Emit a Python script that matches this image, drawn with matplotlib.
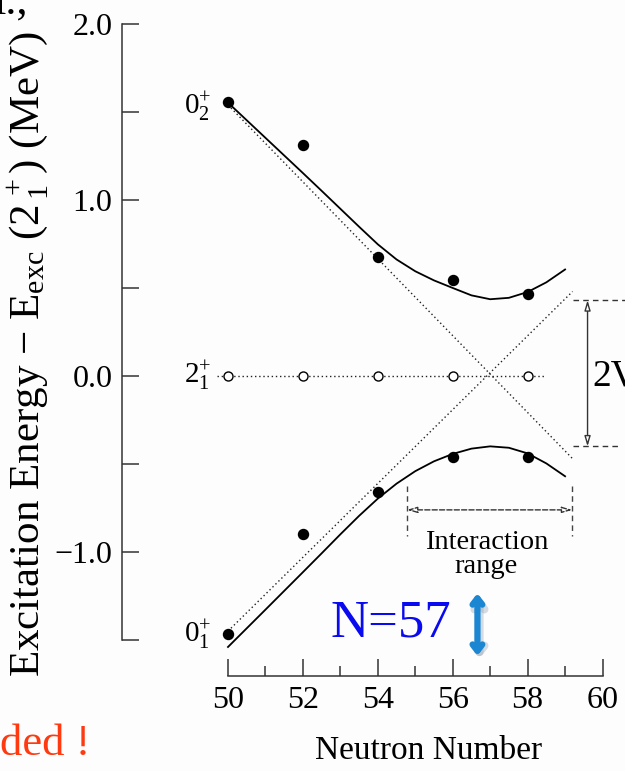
import numpy as np
import matplotlib
matplotlib.use('Agg')
import matplotlib.pyplot as plt
import matplotlib.transforms as mtransforms

####################################################################################################

plt.rcParams['font.family'] = ['Liberation Serif', 'DejaVu Serif']
plt.rcParams['mathtext.fontset'] = 'custom'
plt.rcParams['mathtext.rm'] = 'Liberation Serif'
plt.rcParams['mathtext.it'] = 'Liberation Serif:italic'
plt.rcParams['mathtext.bf'] = 'Liberation Serif:bold'

####################################################################################################

# measured levels (relative to the 2+1 state)
neutron = [50, 52, 54, 56, 58]
e_0plus_2 = [1.557, 1.31, 0.676, 0.545, 0.466]
e_0plus_1 = [-1.468, -0.898, -0.657, -0.46, -0.462]
e_2plus_1 = [0.0, 0.0, 0.0, 0.0, 0.0]

# two-level mixing curves
curve_n = [50, 51, 52, 52.5, 53, 53.5, 54, 54.5, 55, 55.5, 56, 56.5, 57, 57.5, 58, 58.5, 59]
curve_upper = [1.553, 1.353, 1.153, 1.052, 0.95, 0.848, 0.748, 0.662, 0.595, 0.543, 0.50,
               0.458, 0.436, 0.444, 0.477, 0.532, 0.605]
curve_lower = [-1.54, -1.328, -1.115, -1.008, -0.90, -0.795, -0.697, -0.612, -0.541, -0.485,
               -0.443, -0.413, -0.400, -0.408, -0.44, -0.497, -0.57]

# unperturbed (crossing) configurations
diag_n = [50, 59.2]
diag_falling = [1.54, -0.47]
diag_rising = [-1.45, 0.48]
zero_n = [49.7, 58.5]
zero_e = [0.0, 0.0]

# annotations
gap_top, gap_bottom = 0.43, -0.40
range_left, range_right = 54.78, 59.19
range_y = -0.761
n57 = 56.66

x_ticks = [50, 52, 54, 56, 58, 60]
y_ticks = [-1.5, -1.0, -0.5, 0.0, 0.5, 1.0, 1.5, 2.0]
y_ticklabels = ['', '\u22121.0', '', '0.0', '', '1.0', '', '2.0']

####################################################################################################

figure = plt.figure(figsize=(6.25, 7.71), dpi=100)
figure.patch.set_facecolor('#fdfdfd')
axe = figure.add_axes([0.1952, 0.1232, 0.8048, 0.8571])
axe.set_facecolor('none')
axe.set_xlim(47.17, 60.6)
axe.set_ylim(-1.705, 2.05)

dots = (0, (1, 2))
axe.plot(diag_n, diag_falling, color='#222222', lw=1, linestyle=dots)
axe.plot(diag_n, diag_rising, color='#222222', lw=1, linestyle=dots)
axe.plot(zero_n, zero_e, color='#222222', lw=1, linestyle=dots)

axe.plot(curve_n, curve_upper, color='black', lw=1.3)
axe.plot(curve_n, curve_lower, color='black', lw=1.3)

axe.plot(neutron, e_0plus_2, 'o', color='black', ms=7.2)
axe.plot(neutron, e_0plus_1, 'o', color='black', ms=7.2)
axe.plot(neutron, e_2plus_1, 'o', mfc='white', mec='black', mew=1, ms=6.5)

axe.text(49.55, 1.53, r'$0^{+}_{2}$', fontsize=21, ha='right', va='center')
axe.text(49.55, 0.0, r'$2^{+}_{1}$', fontsize=21, ha='right', va='center')
axe.text(49.55, -1.47, r'$0^{+}_{1}$', fontsize=21, ha='right', va='center')

# 2V gap
dash = (0, (4, 3))
axe.plot([59.2, 60.6], [gap_top, gap_top], color='#333333', lw=1, linestyle=dash, clip_on=False)
axe.plot([59.2, 60.4], [gap_bottom, gap_bottom], color='#333333', lw=1, linestyle=dash)
axe.annotate('', xy=(59.6, gap_top), xytext=(59.6, gap_bottom),
             arrowprops=dict(arrowstyle='<|-|>,head_length=0.6,head_width=0.18', fc='white',
                             ec='#333333', lw=1, shrinkA=0, shrinkB=0))
axe.text(59.72, 0.0, '2V', fontsize=27, ha='left', va='center')

# interaction range
for n in (range_left, range_right):
    axe.plot([n, n], [-0.625, -0.91], color='#444444', lw=1, linestyle=dash)
axe.annotate('', xy=(range_left, range_y), xytext=(range_right, range_y),
             arrowprops=dict(arrowstyle='<|-|>,head_length=0.6,head_width=0.18', fc='white',
                             ec='#333333', lw=1, linestyle='--', shrinkA=0, shrinkB=0))
axe.text(56.9, -0.875, 'Interaction\nrange', fontsize=20.5, ha='center', va='top',
         linespacing=0.95)

# N=57 with its blue double arrow (and a soft shadow)
axe.text(55.95, -1.405, 'N=57', fontsize=38, color='#0a0af0', ha='right', va='center')
shadow = axe.transData + mtransforms.ScaledTranslation(2 / 100, -3 / 100, figure.dpi_scale_trans)
axe.annotate('', xy=(n57, -1.235), xytext=(n57, -1.59), xycoords=shadow, textcoords=shadow,
             arrowprops=dict(arrowstyle='<->,head_length=0.45,head_width=0.35',
                             color='#8d9cb0', alpha=0.35, lw=6, shrinkA=0, shrinkB=0),
             annotation_clip=False)
axe.annotate('', xy=(n57, -1.235), xytext=(n57, -1.59),
             arrowprops=dict(arrowstyle='<->,head_length=0.45,head_width=0.35',
                             color='#1b86d2', lw=4.5, shrinkA=0, shrinkB=0),
             annotation_clip=False)

# axes styling
for side in ('top', 'right'):
    axe.spines[side].set_visible(False)
axe.spines['left'].set_bounds(-1.5, 2.0)
axe.spines['bottom'].set_bounds(50, 60)
for side in ('left', 'bottom'):
    axe.spines[side].set_color('#333333')
    axe.spines[side].set_linewidth(1.1)

axe.set_xticks(x_ticks)
axe.set_xticks(np.arange(51, 60, 2), minor=True)
axe.set_yticks(y_ticks)
axe.set_yticklabels(y_ticklabels)
axe.tick_params(axis='both', which='major', direction='in', length=12, width=1.1,
                color='#333333', labelsize=23)
axe.tick_params(axis='x', which='major', pad=7)
axe.tick_params(axis='y', which='major', pad=7)
axe.tick_params(axis='x', which='minor', direction='in', length=7, width=1.1, color='#333333')

figure.text(0.6864, 0.026, 'Neutron Number', fontsize=24, ha='center', va='center')
figure.text(0.046, 0.541, r'Excitation Energy $-$ E$_{\rm exc}$ (2$^{\,+}_{\,1}$) (MeV)',
            fontsize=31, rotation=90, ha='center', va='center')

# fragments of the surrounding slide text
figure.text(0.144, 0.021, 'ded !', fontsize=32, color='#ff3a10', ha='right', va='baseline')
figure.text(0.045, 0.983, 'l.,', fontsize=32, ha='right', va='baseline')

####################################################################################################

figure.savefig('out.png', dpi=100, facecolor=figure.get_facecolor())
